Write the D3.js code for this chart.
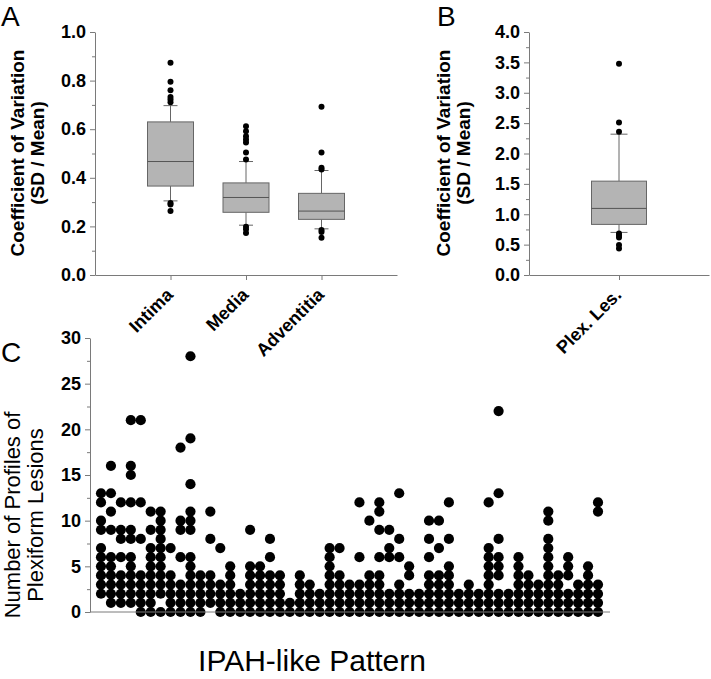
<!DOCTYPE html>
<html><head><meta charset="utf-8">
<script src="https://cdn.jsdelivr.net/npm/d3@7"></script>
<style>body{margin:0;background:#fff} svg{display:block} text{font-family:Arial,"Liberation Sans",sans-serif}</style>
</head><body><svg id="c" width="711" height="679"></svg>
<script>
// ---- Panel A data ----
const catsA = ["Intima", "Media", "Adventitia"];
const q1A = [0.366, 0.258, 0.229];
const medA = [0.467, 0.319, 0.263];
const q3A = [0.630, 0.379, 0.336];
const whLoA = [0.305, 0.205, 0.190];
const whHiA = [0.697, 0.467, 0.430];
const outA = [
  [0.873, 0.795, 0.760, 0.733, 0.722, 0.711, 0.296, 0.290, 0.263],
  [0.612, 0.592, 0.571, 0.558, 0.545, 0.504, 0.475, 0.199, 0.188, 0.173],
  [0.692, 0.504, 0.441, 0.434, 0.185, 0.177, 0.153]
];
const ticksA = [0, 0.2, 0.4, 0.6, 0.8, 1.0];
// ---- Panel B data ----
const catsB = ["Plex. Les."];
const q1B = [0.833];
const medB = [1.096];
const q3B = [1.545];
const whLoB = [0.701];
const whHiB = [2.318];
const outB = [[3.479, 2.51, 2.356, 0.685, 0.652, 0.619, 0.493, 0.438]];
const ticksB = [0, 0.5, 1.0, 1.5, 2.0, 2.5, 3.0, 3.5, 4.0];
// ---- Panel C data: profiles per case ----
const profileCounts = [
  [13,12,10,9,7,6,5,4,3,2],
  [16,13,11,9,6,5,4,3,2,1],
  [12,9,8,6,4,3,2,1],
  [21,16,15,12,9,8,6,5,4,3,2,1],
  [21,12,8,4,3,2,1,0],
  [11,9,7,6,5,4,3,2,1,0],
  [11,10,9,8,7,6,5,4,3,2,0],
  [7,4,3,2,1,0],
  [18,10,9,6,3,2,1,0],
  [28,19,14,11,10,9,6,5,4,3,2,1,0],
  [4,3,2,1,0],
  [11,8,4,3,2,1],
  [7,3,2,1,0],
  [5,4,3,2,1,0],
  [2,1,0],
  [9,5,4,3,2,1,0],
  [5,4,3,2,1,0],
  [8,6,4,3,2,1,0],
  [4,3,2,1,0],
  [1,0],
  [4,3,2,1,0],
  [3,2,1,0],
  [2,1,0],
  [7,6,5,4,3,2,1,0],
  [7,4,3,2,1,0],
  [3,2,1,0],
  [12,6,3,2,1,0],
  [10,4,3,2,1,0],
  [12,11,9,6,4,3,2,1,0],
  [9,7,6,2,1,0],
  [13,8,6,3,2,1,0],
  [5,4,2,1,0],
  [2,1,0],
  [10,8,6,4,3,2,1,0],
  [10,7,4,3,2,1,0],
  [12,8,5,4,3,2,1,0],
  [2,1,0],
  [3,2,1,0],
  [2,1,0],
  [12,7,6,5,4,3,2,1,0],
  [22,13,8,6,5,4,2,1,0],
  [2,1,0],
  [6,5,4,3,2,1,0],
  [4,3,2,1,0],
  [3,2,1,0],
  [11,10,8,7,6,5,4,3,2,1,0],
  [4,3,2,1,0],
  [6,5,4,2,1,0],
  [3,2,1,0],
  [5,4,3,2,1,0],
  [12,11,3,2,1,0]
];
const ticksC = [0, 5, 10, 15, 20, 25, 30];

const svg = d3.select("#c");
const AX = "#7a7a7a";

function yAxis(g, y, majors, minors, fmt) {
  const a = g.append("g").call(d3.axisLeft(y).tickValues(majors).tickFormat(fmt).tickSize(5).tickSizeOuter(0));
  a.select(".domain").attr("stroke", AX);
  a.selectAll(".tick line").attr("stroke", AX);
  a.selectAll("text").attr("fill", "#000").style("font-size", "18px").style("font-weight", "bold").attr("x", -9);
  const m = g.append("g").call(d3.axisLeft(y).tickValues(minors).tickFormat("").tickSize(3).tickSizeOuter(0));
  m.select(".domain").remove();
  m.selectAll(".tick line").attr("stroke", AX);
}

function boxPanel(opt) {
  const g = svg.append("g");
  const y = d3.scaleLinear().domain(opt.domain).range([275, 32]);
  const x = d3.scalePoint().domain(opt.cats).range([opt.x0, opt.x1]).padding(1);
  opt.cats.forEach((c, i) => {
    const cx = x(c), w = opt.bw, cap = opt.cap;
    g.append("line").attr("x1", cx).attr("x2", cx).attr("y1", y(opt.q3[i])).attr("y2", y(opt.hi[i])).attr("stroke", "#666");
    g.append("line").attr("x1", cx).attr("x2", cx).attr("y1", y(opt.q1[i])).attr("y2", y(opt.lo[i])).attr("stroke", "#666");
    g.append("line").attr("x1", cx - cap / 2).attr("x2", cx + cap / 2).attr("y1", y(opt.hi[i])).attr("y2", y(opt.hi[i])).attr("stroke", "#666");
    g.append("line").attr("x1", cx - cap / 2).attr("x2", cx + cap / 2).attr("y1", y(opt.lo[i])).attr("y2", y(opt.lo[i])).attr("stroke", "#666");
    g.append("rect").attr("x", cx - w / 2).attr("width", w).attr("y", y(opt.q3[i])).attr("height", y(opt.q1[i]) - y(opt.q3[i]))
      .attr("fill", "#b4b4b4").attr("stroke", "#666");
    g.append("line").attr("x1", cx - w / 2).attr("x2", cx + w / 2).attr("y1", y(opt.med[i])).attr("y2", y(opt.med[i])).attr("stroke", "#555");
    g.selectAll(null).data(opt.out[i]).enter().append("circle")
      .attr("cx", cx).attr("cy", d => y(d)).attr("r", 3).attr("fill", "#000");
  });
  yAxis(g.append("g").attr("transform", `translate(${opt.x0},0)`), y, opt.ticks, opt.minors, d3.format(".1f"));
  const xa = g.append("g").attr("transform", "translate(0,275)")
    .call(d3.axisBottom(x).tickSize(5).tickSizeOuter(0));
  xa.select(".domain").attr("stroke", AX);
  xa.selectAll(".tick line").attr("stroke", AX);
  xa.selectAll(".tick text").attr("fill", "#000").style("font-size", "18px").style("font-weight", "bold")
    .attr("text-anchor", "end").attr("y", 0).attr("dy", 0)
    .attr("transform", "translate(3,21) rotate(-45)");
  const t = g.append("text").attr("transform", `translate(${opt.tx},153) rotate(-90)`)
    .attr("text-anchor", "middle").style("font-size", "19px").style("font-weight", "bold");
  t.append("tspan").attr("x", 0).attr("dy", 0).text("Coefficient of Variation");
  t.append("tspan").attr("x", 0).attr("dy", 20).text("(SD / Mean)");
  svg.append("text").attr("x", opt.lx).attr("y", 26).style("font-size", "28px").text(opt.letter);
}

boxPanel({cats: catsA, domain: [0, 1], x0: 95, x1: 397, bw: 46, cap: 14,
  q1: q1A, med: medA, q3: q3A, lo: whLoA, hi: whHiA, out: outA,
  ticks: ticksA, minors: [0.1, 0.3, 0.5, 0.7, 0.9], tx: 24, lx: 1, letter: "A"});
boxPanel({cats: catsB, domain: [0, 4], x0: 529, x1: 709, bw: 55, cap: 17,
  q1: q1B, med: medB, q3: q3B, lo: whLoB, hi: whHiB, out: outB,
  ticks: ticksB, minors: [0.25, 0.75, 1.25, 1.75, 2.25, 2.75, 3.25, 3.75], tx: 450, lx: 437, letter: "B"});

// ---- Panel C ----
const gC = svg.append("g");
const yC = d3.scaleLinear().domain([0, 30]).range([612, 338]);
const xC = d3.scalePoint().domain(d3.range(profileCounts.length)).range([101, 598]);
profileCounts.forEach((vals, i) => {
  gC.selectAll(null).data(vals).enter().append("circle")
    .attr("cx", xC(i)).attr("cy", d => yC(d)).attr("r", 5.1).attr("fill", "#000");
});
yAxis(gC.append("g").attr("transform", "translate(90,0)"), yC, ticksC, [2.5, 7.5, 12.5, 17.5, 22.5, 27.5], d3.format("d"));
gC.append("line").attr("x1", 90).attr("x2", 610).attr("y1", 612).attr("y2", 612).attr("stroke", AX);
const tc = gC.append("text").attr("transform", "translate(20,515) rotate(-90)")
  .attr("text-anchor", "middle").style("font-size", "22px");
tc.append("tspan").attr("x", 0).attr("dy", 0).text("Number of Profiles of");
tc.append("tspan").attr("x", 0).attr("dy", 23).text("Plexiform Lesions");
gC.append("text").attr("x", 312).attr("y", 671).attr("text-anchor", "middle").style("font-size", "30px").text("IPAH-like Pattern");
svg.append("text").attr("x", 1).attr("y", 362).style("font-size", "28px").text("C");
</script></body></html>
